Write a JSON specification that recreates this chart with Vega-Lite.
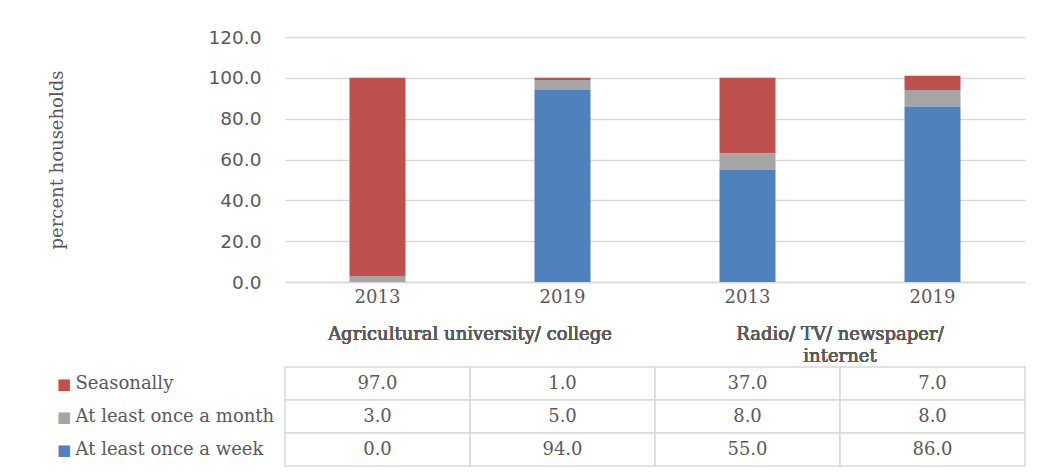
{
  "$schema": "https://vega.github.io/schema/vega-lite/v6.json",
  "padding": {"left": 48, "top": 28, "right": 5, "bottom": 5},
  "background": "white",
  "spacing": 0,
  "datasets": {
    "survey": [
      {"category": "Agricultural university/ college", "year": "2013", "group": "Agricultural university/ college 2013", "series": "Seasonally", "freqRank": 3, "value": 97},
      {"category": "Agricultural university/ college", "year": "2013", "group": "Agricultural university/ college 2013", "series": "At least once a month", "freqRank": 2, "value": 3},
      {"category": "Agricultural university/ college", "year": "2013", "group": "Agricultural university/ college 2013", "series": "At least once a week", "freqRank": 1, "value": 0},
      {"category": "Agricultural university/ college", "year": "2019", "group": "Agricultural university/ college 2019", "series": "Seasonally", "freqRank": 3, "value": 1},
      {"category": "Agricultural university/ college", "year": "2019", "group": "Agricultural university/ college 2019", "series": "At least once a month", "freqRank": 2, "value": 5},
      {"category": "Agricultural university/ college", "year": "2019", "group": "Agricultural university/ college 2019", "series": "At least once a week", "freqRank": 1, "value": 94},
      {"category": "Radio/ TV/ newspaper/\ninternet", "year": "2013", "group": "Radio/ TV/ newspaper/ internet 2013", "series": "Seasonally", "freqRank": 3, "value": 37},
      {"category": "Radio/ TV/ newspaper/\ninternet", "year": "2013", "group": "Radio/ TV/ newspaper/ internet 2013", "series": "At least once a month", "freqRank": 2, "value": 8},
      {"category": "Radio/ TV/ newspaper/\ninternet", "year": "2013", "group": "Radio/ TV/ newspaper/ internet 2013", "series": "At least once a week", "freqRank": 1, "value": 55},
      {"category": "Radio/ TV/ newspaper/\ninternet", "year": "2019", "group": "Radio/ TV/ newspaper/ internet 2019", "series": "Seasonally", "freqRank": 3, "value": 7},
      {"category": "Radio/ TV/ newspaper/\ninternet", "year": "2019", "group": "Radio/ TV/ newspaper/ internet 2019", "series": "At least once a month", "freqRank": 2, "value": 8},
      {"category": "Radio/ TV/ newspaper/\ninternet", "year": "2019", "group": "Radio/ TV/ newspaper/ internet 2019", "series": "At least once a week", "freqRank": 1, "value": 86}
    ]
  },
  "data": {"name": "survey"},
  "vconcat": [
    {
      "width": 740,
      "height": 245,
      "mark": {"type": "bar", "size": 56},
      "encoding": {
        "x": {
          "field": "group", "type": "nominal",
          "sort": ["Agricultural university/ college 2013", "Agricultural university/ college 2019", "Radio/ TV/ newspaper/ internet 2013", "Radio/ TV/ newspaper/ internet 2019"],
          "scale": {"paddingInner": 0, "paddingOuter": 0},
          "axis": {
            "orient": "bottom", "title": null, "labelExpr": "slice(datum.value, -4)", "labelAngle": 0,
            "labelPadding": 6, "labelFont": "DejaVu Serif", "labelFontSize": 18,
            "labelColor": "#595959", "ticks": false, "domain": true, "domainColor": "#d9d9d9", "domainWidth": 1.5, "grid": false
          }
        },
        "y": {
          "field": "value", "type": "quantitative", "stack": "zero",
          "scale": {"domain": [0, 120]},
          "axis": {
            "values": [0, 20, 40, 60, 80, 100, 120], "format": ".1f",
            "title": "percent households", "titleFont": "DejaVu Serif", "titleFontSize": 18,
            "titleFontWeight": "normal", "titleColor": "#595959", "titlePadding": 142,
            "labelFont": "DejaVu Sans", "labelFontSize": 18.5, "labelColor": "#595959", "labelPadding": 24,
            "ticks": false, "domain": false, "grid": true, "gridColor": "#d9d9d9", "gridWidth": 1.5
          }
        },
        "color": {
          "field": "series", "type": "nominal",
          "scale": {"domain": ["Seasonally", "At least once a month", "At least once a week"], "range": ["#C0504D", "#A5A5A5", "#4F81BD"]},
          "legend": null
        },
        "order": {"field": "freqRank", "type": "quantitative", "sort": "ascending"}
      }
    },
    {
      "width": 740,
      "height": 57,
      "mark": {"type": "text", "font": "DejaVu Serif", "fontSize": 18, "color": "#595959", "lineBreak": "\n", "lineHeight": 22, "baseline": "middle"},
      "encoding": {
        "x": {
          "field": "category", "type": "nominal",
          "sort": ["Agricultural university/ college", "Radio/ TV/ newspaper/\ninternet"],
          "scale": {"paddingInner": 0, "paddingOuter": 0},
          "axis": null
        },
        "text": {"field": "category", "type": "nominal"}
      }
    },
    {
      "width": 740,
      "height": 99,
      "layer": [
        {
          "mark": {"type": "rect", "fill": "white", "stroke": "#d9d9d9", "strokeWidth": 1.5},
          "encoding": {
            "x": {
              "field": "group", "type": "nominal",
              "sort": ["Agricultural university/ college 2013", "Agricultural university/ college 2019", "Radio/ TV/ newspaper/ internet 2013", "Radio/ TV/ newspaper/ internet 2019"],
              "scale": {"paddingInner": 0, "paddingOuter": 0},
              "axis": null
            },
            "y": {
              "field": "series", "type": "nominal",
              "sort": ["Seasonally", "At least once a month", "At least once a week"],
              "scale": {"paddingInner": 0, "paddingOuter": 0},
              "axis": {
                "orient": "left", "title": null, "domain": false, "ticks": false, "labelAlign": "left",
                "labelBaseline": "middle", "labelPadding": 210, "labelFont": "DejaVu Serif", "labelFontSize": 18,
                "labelColor": "#595959", "labelLimit": 300, "grid": false
              }
            }
          }
        },
        {
          "mark": {"type": "text", "font": "DejaVu Serif", "fontSize": 18, "color": "#595959"},
          "encoding": {
            "x": {
              "field": "group", "type": "nominal",
              "sort": ["Agricultural university/ college 2013", "Agricultural university/ college 2019", "Radio/ TV/ newspaper/ internet 2013", "Radio/ TV/ newspaper/ internet 2019"]
            },
            "y": {
              "field": "series", "type": "nominal",
              "sort": ["Seasonally", "At least once a month", "At least once a week"]
            },
            "text": {"field": "value", "type": "quantitative", "format": ".1f"}
          }
        },
        {
          "transform": [{"filter": "datum.group == 'Agricultural university/ college 2013'"}],
          "mark": {"type": "text", "font": "DejaVu Sans", "fontSize": 15, "align": "left", "baseline": "middle", "dx": -228, "text": "■"},
          "encoding": {
            "x": {
              "field": "group", "type": "nominal", "bandPosition": 0,
              "sort": ["Agricultural university/ college 2013", "Agricultural university/ college 2019", "Radio/ TV/ newspaper/ internet 2013", "Radio/ TV/ newspaper/ internet 2019"]
            },
            "y": {
              "field": "series", "type": "nominal",
              "sort": ["Seasonally", "At least once a month", "At least once a week"]
            },
            "color": {
              "field": "series", "type": "nominal",
              "scale": {"domain": ["Seasonally", "At least once a month", "At least once a week"], "range": ["#C0504D", "#A5A5A5", "#4F81BD"]},
              "legend": null
            }
          }
        }
      ]
    }
  ],
  "config": {"view": {"stroke": null}}
}
